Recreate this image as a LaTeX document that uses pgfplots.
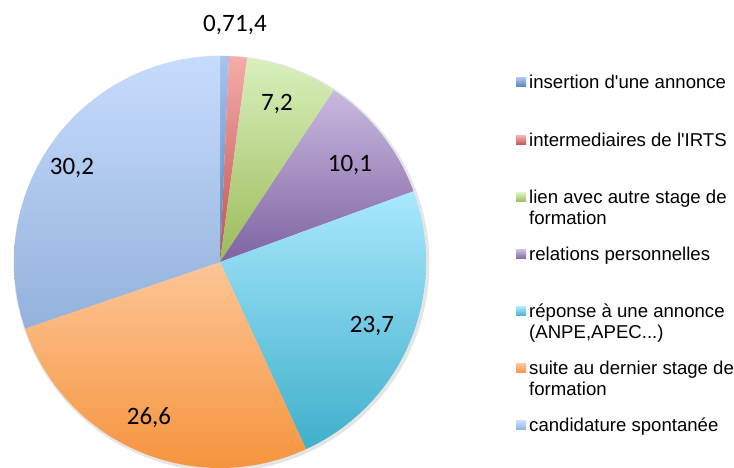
\documentclass[border=0pt]{standalone}
\usepackage{pgfplots}
\pgfplotsset{compat=1.18}
\usepackage{fontspec}
\setmainfont{Liberation Sans}
\newfontfamily\calfont{Carlito}

\definecolor{c1t}{HTML}{A8C4ED}\definecolor{c1b}{HTML}{4F81BD}
\definecolor{c2t}{HTML}{F5ACAA}\definecolor{c2b}{HTML}{C0504D}
\definecolor{c3t}{HTML}{D9F0BD}\definecolor{c3b}{HTML}{9BBB59}
\definecolor{c4t}{HTML}{C9B9E0}\definecolor{c4b}{HTML}{7F63A1}
\definecolor{c5t}{HTML}{A9E8FD}\definecolor{c5b}{HTML}{3FB0CB}
\definecolor{c6t}{HTML}{FDC596}\definecolor{c6b}{HTML}{F5943E}
\definecolor{c7t}{HTML}{C6DCFD}\definecolor{c7b}{HTML}{93B1DB}

% values of the pie, clockwise from the top
\def\total{99.9}
\gdef\cum{0}
\newcommand\slice[3]{%
  \pgfmathsetmacro\aS{90-\cum/\total*360}%
  \pgfmathsetmacro\aE{90-(\cum+#1)/\total*360}%
  \edef\temp{\noexpand\addplot[draw=none, top color=#2, bottom color=#3, domain=\aE:\aS, samples=80, variable=\noexpand\t]
    ({220+206*cos(\noexpand\t)},{206+206*sin(\noexpand\t)}) -- (axis cs:220,206) -- cycle;}%
  \temp
  \pgfmathsetmacro\newcum{\cum+#1}%
  \global\let\cum\newcum
}

\begin{document}
\begin{tikzpicture}
\useasboundingbox (0,0) rectangle (734bp,468bp);
\begin{axis}[at={(0,0)}, anchor=south west, width=734bp, height=468bp, scale only axis,
  xmin=0, xmax=734, ymin=0, ymax=468, hide axis, clip=false]
% soft shadow
\addplot[draw=none, fill=black, fill opacity=0.10, domain=0:360, samples=120, variable=\t]
  ({221.5+208*cos(\t)},{204.5+208*sin(\t)}) -- cycle;
\slice{0.7}{c1t}{c1b}
\slice{1.4}{c2t}{c2b}
\slice{7.2}{c3t}{c3b}
\slice{10.1}{c4t}{c4b}
\slice{23.7}{c5t}{c5b}
\slice{26.6}{c6t}{c6b}
\slice{30.2}{c7t}{c7b}

% data labels
\begin{scope}[every node/.style={font=\calfont\fontsize{25bp}{28bp}\selectfont, anchor=base, inner sep=0pt}]
\node at (axis cs:219,436) {0,7};
\node at (axis cs:251,436) {1,4};
\node at (axis cs:277,357) {7,2};
\node at (axis cs:350,296) {10,1};
\node at (axis cs:372,135) {23,7};
\node at (axis cs:149,43) {26,6};
\node at (axis cs:72,293) {30,2};
\end{scope}

% legend
\begin{scope}[every node/.style={font=\fontsize{18.6bp}{21bp}\selectfont, anchor=base west, inner sep=0pt}]
\newcommand\legsq[3]{\fill[top color=#2, bottom color=#3, draw=none] (axis cs:516,{468-#1+2}) rectangle (axis cs:526,{468-#1+11});}
\legsq{89}{c1t}{c1b}
\node at (axis cs:529,379) {insertion d\textquotesingle une annonce};
\legsq{147}{c2t}{c2b}
\node at (axis cs:529,321) {intermediaires de l\textquotesingle IRTS};
\legsq{204}{c3t}{c3b}
\node at (axis cs:529,264) {lien avec autre stage de};
\node at (axis cs:529,243) {formation};
\legsq{261}{c4t}{c4b}
\node at (axis cs:529,207) {relations personnelles};
\legsq{318}{c5t}{c5b}
\node at (axis cs:529,150) {réponse à une annonce};
\node at (axis cs:529,129) {(ANPE,APEC...)};
\legsq{375}{c6t}{c6b}
\node at (axis cs:529,93) {suite au dernier stage de};
\node at (axis cs:529,72) {formation};
\legsq{432}{c7t}{c7b}
\node at (axis cs:529,36) {candidature spontanée};
\end{scope}
\end{axis}
\end{tikzpicture}
\end{document}
